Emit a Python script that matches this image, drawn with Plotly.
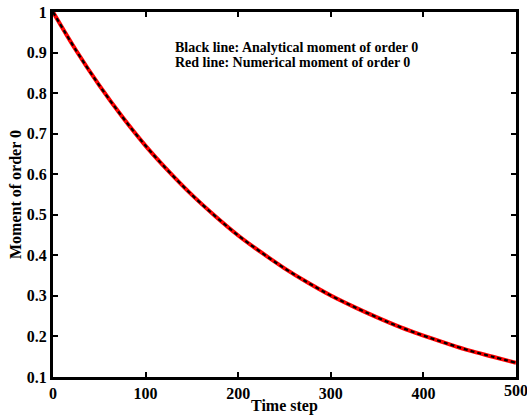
import plotly.graph_objects as go

time_step = [0, 25, 50, 75, 100, 125, 150, 175, 200, 225, 250, 275, 300, 325, 350, 375, 400, 425, 450, 475, 500]
analytical = [1.0, 0.905, 0.819, 0.741, 0.670, 0.607, 0.549, 0.497, 0.449, 0.407, 0.368, 0.333, 0.301, 0.273, 0.247, 0.223, 0.202, 0.183, 0.165, 0.150, 0.135]
numerical = [1.0, 0.905, 0.819, 0.741, 0.670, 0.607, 0.549, 0.497, 0.449, 0.407, 0.368, 0.333, 0.301, 0.273, 0.247, 0.223, 0.202, 0.183, 0.165, 0.150, 0.135]
x_ticks = [0, 100, 200, 300, 400, 500]
y_ticks = [0.1, 0.2, 0.3, 0.4, 0.5, 0.6, 0.7, 0.8, 0.9, 1.0]
y_tick_labels = ["0.1", "0.2", "0.3", "0.4", "0.5", "0.6", "0.7", "0.8", "0.9", "1"]
legend_lines = ["Black line: Analytical moment of order 0",
                "Red line: Numerical moment of order 0"]
x_title = "Time step"
y_title = "Moment of order 0"

font = "Liberation Serif"

fig = go.Figure()
fig.add_trace(go.Scatter(x=time_step, y=numerical, mode="lines",
                         line=dict(color="#ff0000", width=4, shape="spline"),
                         showlegend=False, hoverinfo="skip"))
fig.add_trace(go.Scatter(x=time_step, y=analytical, mode="lines",
                         line=dict(color="#000000", width=2.2, dash="4px,3px", shape="spline"),
                         showlegend=False, hoverinfo="skip"))

for i, txt in enumerate(legend_lines):
    fig.add_annotation(x=0.259, y=0.904 - 0.041 * i, xref="paper", yref="paper",
                       xanchor="left", yanchor="middle", showarrow=False,
                       text=f"<b>{txt}</b>",
                       font=dict(family=font, size=14, color="black"))

# last x tick label sits at the right edge (plotly would hide it as a tick label)
fig.add_annotation(x=x_ticks[-1], y=0, xref="x", yref="paper", xanchor="center", yanchor="top",
                   yshift=-3, showarrow=False, text=f"<b>{x_ticks[-1]}</b>",
                   font=dict(family=font, size=16, color="black"))

# x-axis title
fig.add_annotation(x=0.5, y=-0.079, xref="paper", yref="paper", xanchor="center", yanchor="middle",
                   showarrow=False, text=f"<b>{x_title}</b>",
                   font=dict(family=font, size=16, color="black"))

axis_common = dict(showgrid=False, zeroline=False, showline=True, linecolor="black", linewidth=3,
                   mirror="ticks", ticks="inside", ticklen=5, tickwidth=2, tickcolor="black",
                   automargin=False,
                   tickfont=dict(family=font, size=16, color="black"))

fig.update_xaxes(range=[0, 500], tickvals=x_ticks,
                 ticktext=[f"<b>{v}</b>" for v in x_ticks[:-1]] + [""],
                 **axis_common)
fig.update_yaxes(range=[0.1, 1.0], tickvals=y_ticks, ticktext=[f"<b>{t}</b>" for t in y_tick_labels],
                 title=dict(text=f"<b>{y_title}</b>", font=dict(family=font, size=16, color="black"), standoff=2),
                 **axis_common)

fig.update_layout(width=527, height=417, margin=dict(l=53, r=11, t=12, b=40),
                  paper_bgcolor="white", plot_bgcolor="white")

fig.write_html("out.html", config={"displayModeBar": False},
               post_script="document.body.style.margin='0';document.body.style.overflow='hidden';")
